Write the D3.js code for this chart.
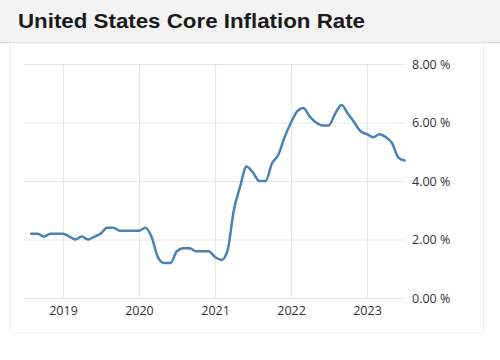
<!DOCTYPE html>
<html><head><meta charset="utf-8">
<script src="https://cdn.jsdelivr.net/npm/d3@7"></script>
<style>
html,body{margin:0;padding:0;background:#fff;}
svg{display:block;}
</style></head>
<body>
<svg id="chart" width="500" height="360"></svg>
<script>
const title = "United States Core Inflation Rate";
const startMonth = "2018-08";
const values = [
  2.2, 2.2, 2.1, 2.2, 2.2,
  2.2, 2.1, 2.0, 2.1, 2.0, 2.1, 2.2, 2.4, 2.4, 2.3, 2.3, 2.3,
  2.3, 2.4, 2.1, 1.4, 1.2, 1.2, 1.6, 1.7, 1.7, 1.6, 1.6, 1.6,
  1.4, 1.3, 1.6, 3.0, 3.8, 4.5, 4.3, 4.0, 4.0, 4.6, 4.9, 5.5,
  6.0, 6.4, 6.5, 6.2, 6.0, 5.9, 5.9, 6.3, 6.6, 6.3, 6.0, 5.7,
  5.6, 5.5, 5.6, 5.5, 5.3, 4.8, 4.7
];
const yTicks = [0, 2, 4, 6, 8];
const xTickYears = [2019, 2020, 2021, 2022, 2023];

const svg = d3.select("#chart");
// header
svg.append("rect").attr("x",0).attr("y",0).attr("width",500).attr("height",42).attr("fill","#f3f3f3");
svg.append("line").attr("x1",0).attr("x2",500).attr("y1",42.5).attr("y2",42.5).attr("stroke","#d9d9d9");
svg.append("text").attr("x",18).attr("y",28).text(title)
  .attr("font-family","Liberation Sans, Arial, sans-serif").attr("font-weight","bold")
  .attr("font-size",21).attr("fill","#1a1a1a")
  .attr("textLength",347).attr("lengthAdjust","spacingAndGlyphs");
// card
svg.append("rect").attr("x",10.5).attr("y",43).attr("width",473).attr("height",290)
  .attr("fill","#fff").attr("stroke","#eeeeee");

const parse = d3.timeParse("%Y-%m");
const start = parse(startMonth);
const data = values.map((v,i)=>({date:d3.timeMonth.offset(start,i), v}));

const x = d3.scaleTime().domain([new Date(2019,0,1), new Date(2023,0,1)]).range([63,367]);
const y = d3.scaleLinear().domain([0,8]).range([298,64]);

const g = svg.append("g");
const fontFam = "Open Sans, DejaVu Sans, sans-serif";

// horizontal grid
g.append("g").attr("transform","translate(405,0)")
  .call(d3.axisRight(y).tickValues(yTicks).tickSize(-381).tickPadding(7).tickFormat(d=>d3.format(".2f")(d)+" %"))
  .call(a=>a.select(".domain").remove())
  .call(a=>a.selectAll(".tick line").attr("stroke","#e6e6e6"))
  .call(a=>a.selectAll(".tick text").attr("font-family",fontFam).attr("font-size",12.5).attr("fill","#333"));

// vertical grid
g.append("g").attr("transform","translate(0,298)")
  .call(d3.axisBottom(x).tickValues(xTickYears.map(yr=>new Date(yr,0,1))).tickSize(-234).tickPadding(8).tickFormat(d3.timeFormat("%Y")))
  .call(a=>a.select(".domain").remove())
  .call(a=>a.selectAll(".tick line").attr("stroke","#e6e6e6"))
  .call(a=>a.selectAll(".tick text").attr("font-family",fontFam).attr("font-size",12.5).attr("fill","#333"));

const line = d3.line().x(d=>x(d.date)).y(d=>y(d.v)).curve(d3.curveMonotoneX);
g.append("path").datum(data).attr("d",line).attr("fill","none")
  .attr("stroke","#4a82b5").attr("stroke-width",2.5).attr("stroke-linejoin","round").attr("stroke-linecap","round");
</script>
</body></html>
